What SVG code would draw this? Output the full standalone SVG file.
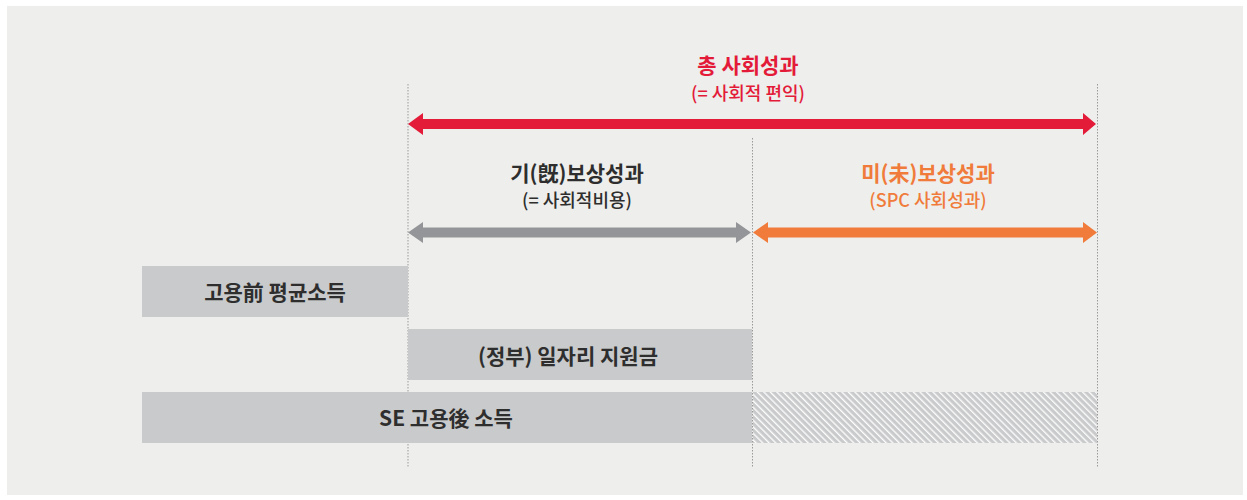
<svg xmlns="http://www.w3.org/2000/svg" width="1247" height="500" viewBox="0 0 1247 500">
<defs>
<style>
.t{font-family:"Noto Sans CJK KR","Noto Sans",sans-serif;text-anchor:middle}
.h{font-size:21px;font-weight:700}
.s{font-size:18px;font-weight:500}
.bar{fill:#c9cacb}
.guide{stroke:#9a9a9a;stroke-width:1;stroke-dasharray:1.5 1.5;fill:none}
.lbl{font-size:21px;font-weight:700;fill:#2e2e2e}
</style>
<pattern id="hatch" patternUnits="userSpaceOnUse" width="4.6" height="4.6" patternTransform="rotate(-45)">
<rect width="4.6" height="4.6" fill="#c9cacb"/>
<line x1="0.7" y1="0" x2="0.7" y2="4.6" stroke="#ffffff" stroke-width="1.3"/>
</pattern>
</defs>
<rect width="1247" height="500" fill="#ffffff"/>
<rect x="7" y="6" width="1236" height="489" fill="#eeeeec"/>

<g id="guides">
<line class="guide" x1="408" y1="84" x2="408" y2="467"/>
<line class="guide" x1="752.5" y1="138" x2="752.5" y2="467"/>
<line class="guide" x1="1097.5" y1="84" x2="1097.5" y2="467"/>
</g>

<g id="bar-before">
<rect class="bar" x="142" y="266" width="266" height="51"/>
<text class="t lbl" x="275" y="300">고용前 평균소득</text>
</g>
<g id="bar-subsidy">
<rect class="bar" x="408" y="329" width="344" height="51"/>
<text class="t lbl" x="568" y="364">(정부) 일자리 지원금</text>
</g>
<g id="bar-after">
<rect class="bar" x="142" y="392" width="610" height="51"/>
<text class="t lbl" x="446" y="426">SE 고용後 소득</text>
</g>
<g id="bar-unpaid">
<rect x="753" y="392" width="344" height="51" fill="url(#hatch)"/>
</g>

<g id="connectors">
<polygon fill="#e31a38" points="408,124 423,113 423,119 1083,119 1083,113 1096,124 1083,135 1083,129 423,129 423,135"/>
<polygon fill="#949598" points="408,232.5 423,222 423,227.5 736,227.5 736,222 751,232.5 736,243 736,237.5 423,237.5 423,243"/>
<polygon fill="#f07b3a" points="753,232.5 768,222 768,227.5 1083,227.5 1083,222 1097,232.5 1083,243 1083,237.5 768,237.5 768,243"/>
</g>

<g id="total">
<text class="t h" x="748" y="73" fill="#e31a38">총 사회성과</text>
<text class="t s" x="748" y="100" fill="#e31a38">(= 사회적 편익)</text>
</g>
<g id="paid">
<text class="t h" x="577" y="181" fill="#2e2e2e">기(旣)보상성과</text>
<text class="t s" x="577" y="207" fill="#2e2e2e">(= 사회적비용)</text>
</g>
<g id="unpaid">
<text class="t h" x="928" y="181" fill="#f07b3a">미(未)보상성과</text>
<text class="t s" x="928" y="207" fill="#f07b3a">(SPC 사회성과)</text>
</g>
</svg>
